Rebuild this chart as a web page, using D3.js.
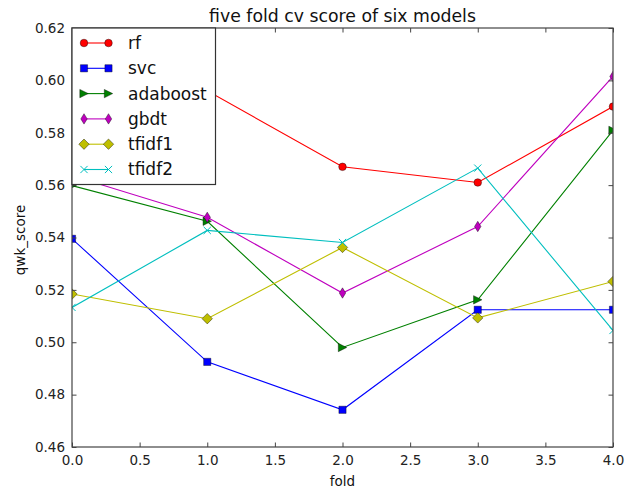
<!DOCTYPE html>
<html>
<head>
<meta charset="utf-8">
<script src="https://cdn.jsdelivr.net/npm/d3@7"></script>
<style>
  html, body { margin: 0; padding: 0; background: #fff; }
  svg { display: block; font-family: "DejaVu Sans", sans-serif; }
</style>
</head>
<body>
<svg id="chart" width="625" height="490"></svg>
<script>
// ---- data ----
const folds = [0, 1, 2, 3, 4];
const rf       = [0.588, 0.596, 0.567, 0.561, 0.590];
const svc      = [0.5395, 0.4925, 0.4742, 0.5124, 0.5124];
const adaboost = [0.5598, 0.5462, 0.4980, 0.5162, 0.5809];
const gbdt     = [0.5636, 0.5477, 0.5188, 0.5442, 0.6015];
const tfidf1   = [0.5184, 0.5090, 0.5362, 0.5093, 0.5232];
const tfidf2   = [0.5133, 0.5427, 0.5381, 0.5665, 0.5045];
const seriesNames = ["rf", "svc", "adaboost", "gbdt", "tfidf1", "tfidf2"];
const seriesValues = [rf, svc, adaboost, gbdt, tfidf1, tfidf2];
const xTicks = [0.0, 0.5, 1.0, 1.5, 2.0, 2.5, 3.0, 3.5, 4.0];
const yTicks = [0.46, 0.48, 0.50, 0.52, 0.54, 0.56, 0.58, 0.60, 0.62];
const titleText = "five fold cv score of six models";
const xLabel = "fold";
const yLabel = "qwk_score";

// ---- styles ----
const colors = ["#ff0000", "#0000ff", "#008000", "#bf00bf", "#bfbf00", "#00bfbf"];
const markers = ["circle", "square", "triRight", "thinDiamond", "diamond", "x"];

const svg = d3.select("#chart");
const L = 72, R = 613, T = 28, B = 447;
const x = d3.scaleLinear().domain([0, 4]).range([L, R]);
const y = d3.scaleLinear().domain([0.46, 0.62]).range([B, T]);

function markerPath(type) {
  switch (type) {
    case "circle": { const r = 3.8; return `M${-r},0A${r},${r} 0 1,0 ${r},0A${r},${r} 0 1,0 ${-r},0Z`; }
    case "square": { const s = 3.6; return `M${-s},${-s}H${s}V${s}H${-s}Z`; }
    case "triRight": { const s = 4.2; return `M${s},0L${-s},${-s}L${-s},${s}Z`; }
    case "thinDiamond": { const w = 3.2, h = 5.2; return `M0,${-h}L${w},0L0,${h}L${-w},0Z`; }
    case "diamond": { const s = 5.2; return `M0,${-s}L${s},0L0,${s}L${-s},0Z`; }
    case "x": { const s = 3.6; return `M${-s},${-s}L${s},${s}M${-s},${s}L${s},${-s}`; }
  }
}

function drawMarker(g, type, color, cx, cy) {
  const p = g.append("path").attr("d", markerPath(type)).attr("transform", `translate(${cx},${cy})`);
  if (type === "x") {
    p.attr("fill", "none").attr("stroke", color).attr("stroke-width", 1);
  } else {
    p.attr("fill", color).attr("stroke", "#000").attr("stroke-width", 0.5).attr("stroke-opacity", 0.8);
  }
}

// clip
svg.append("defs").append("clipPath").attr("id", "plotclip")
  .append("rect").attr("x", L).attr("y", T).attr("width", R - L).attr("height", B - T);

const plot = svg.append("g").attr("clip-path", "url(#plotclip)");
const line = d3.line().x((d, i) => x(folds[i])).y(d => y(d));

seriesValues.forEach((vals, si) => {
  plot.append("path").datum(vals).attr("d", line)
    .attr("fill", "none").attr("stroke", colors[si]).attr("stroke-width", 1.1);
});
seriesValues.forEach((vals, si) => {
  vals.forEach((v, i) => drawMarker(plot, markers[si], colors[si], x(folds[i]), y(v)));
});

// axes frame
const tickLen = 4.5;
const axisColor = "#444";
const axB = d3.axisBottom(x).tickValues(xTicks).tickFormat(d3.format(".1f")).tickSizeInner(-tickLen).tickSizeOuter(0).tickPadding(8);
const axT = d3.axisTop(x).tickValues(xTicks).tickFormat("").tickSizeInner(-tickLen).tickSizeOuter(0);
const axL = d3.axisLeft(y).tickValues(yTicks).tickFormat(d3.format(".2f")).tickSizeInner(-tickLen).tickSizeOuter(0).tickPadding(7);
const axR = d3.axisRight(y).tickValues(yTicks).tickFormat("").tickSizeInner(-tickLen).tickSizeOuter(0);

function styleAxis(g) {
  g.select(".domain").remove();
  g.selectAll(".tick line").attr("stroke", axisColor).attr("stroke-width", 1);
  g.selectAll(".tick text").attr("fill", "#222").style("font-size", "13.5px").style("font-family", "DejaVu Sans, sans-serif");
}
svg.append("g").attr("transform", `translate(0,${B})`).call(axB).call(styleAxis);
svg.append("g").attr("transform", `translate(0,${T})`).call(axT).call(styleAxis);
svg.append("g").attr("transform", `translate(${L},0)`).call(axL).call(styleAxis);
svg.append("g").attr("transform", `translate(${R},0)`).call(axR).call(styleAxis);

svg.append("rect").attr("x", L).attr("y", T).attr("width", R - L).attr("height", B - T)
  .attr("fill", "none").attr("stroke", axisColor).attr("stroke-width", 1.2);

// title & labels
svg.append("text").attr("x", (L + R) / 2).attr("y", 22).attr("text-anchor", "middle")
  .style("font-size", "17.3px").attr("fill", "#111").text(titleText);
svg.append("text").attr("x", (L + R) / 2).attr("y", 486).attr("text-anchor", "middle")
  .style("font-size", "13.5px").attr("fill", "#111").text(xLabel);
svg.append("text").attr("transform", `translate(25,240) rotate(-90)`).attr("text-anchor", "middle")
  .style("font-size", "13.5px").attr("fill", "#111").text(yLabel);

// legend
const lg = svg.append("g");
lg.append("rect").attr("x", L).attr("y", T).attr("width", 143.5).attr("height", 156.5)
  .attr("fill", "#fff").attr("stroke", "#333").attr("stroke-width", 1.2);
const legY0 = 43, legDy = 25.3;
seriesNames.forEach((name, si) => {
  const yy = legY0 + si * legDy;
  lg.append("line").attr("x1", 84).attr("x2", 108.5).attr("y1", yy).attr("y2", yy)
    .attr("stroke", colors[si]).attr("stroke-width", 1.1);
  drawMarker(lg, markers[si], colors[si], 84, yy);
  drawMarker(lg, markers[si], colors[si], 108.5, yy);
  lg.append("text").attr("x", 128).attr("y", yy).attr("dy", "0.35em")
    .style("font-size", "17px").attr("fill", "#111").text(name);
});
</script>
</body>
</html>
